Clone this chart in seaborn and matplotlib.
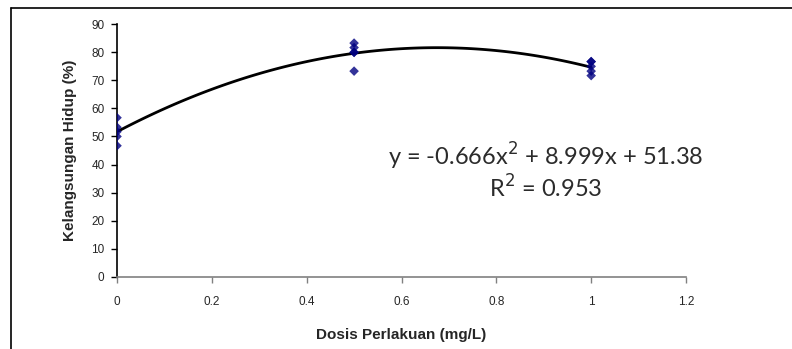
import numpy as np
import pandas as pd
import seaborn as sns
import matplotlib
matplotlib.use("Agg")
import matplotlib.pyplot as plt
from matplotlib.lines import Line2D

# Data
dose = [0, 0, 0, 0, 0,
        0.5, 0.5, 0.5, 0.5, 0.5,
        1, 1, 1, 1, 1]
survival = [56.7, 53.3, 51.7, 50.0, 46.7,
            83.3, 81.7, 80.0, 80.0, 73.3,
            76.7, 76.7, 75.0, 73.3, 71.7]
x_ticks = [0, 0.2, 0.4, 0.6, 0.8, 1, 1.2]
x_tick_labels = ["0", "0.2", "0.4", "0.6", "0.8", "1", "1.2"]
y_ticks = [0, 10, 20, 30, 40, 50, 60, 70, 80, 90]
equation_text = "y = -0.666x$^2$ + 8.999x + 51.38"
r2_text = "R$^2$ = 0.953"

df = pd.DataFrame({"dose": dose, "survival": survival})

sns.set_theme(style="white")
plt.rcParams["font.family"] = ["Liberation Sans", "DejaVu Sans"]

fig = plt.figure(figsize=(7.92, 3.49), dpi=100)
ax = fig.add_axes([117 / 792, 1 - 276.7 / 349, (686 - 117) / 792, (276.7 - 24.3) / 349])

sns.regplot(data=df, x="dose", y="survival", order=2, ci=None, ax=ax,
            marker="D",
            scatter_kws=dict(color="#000080", s=24, edgecolor="none", zorder=3),
            line_kws=dict(color="black", lw=2.0, zorder=2))

ax.set_xlim(0, 1.2)
ax.set_ylim(0, 90)
ax.set_xticks(x_ticks)
ax.set_xticklabels(x_tick_labels)
ax.set_yticks(y_ticks)

for s in ["top", "right"]:
    ax.spines[s].set_visible(False)
ax.spines["left"].set_color("black")
ax.spines["left"].set_linewidth(1.2)
ax.spines["bottom"].set_color("#808080")
ax.spines["bottom"].set_linewidth(1.2)

ax.tick_params(axis="y", direction="out", length=4, width=1, color="black",
               labelsize=8.5, pad=5, left=True)
ax.tick_params(axis="x", direction="out", length=4, width=1, color="#808080",
               labelsize=8.5, pad=10, bottom=True)

ax.set_xlabel("Dosis Perlakuan (mg/L)", fontsize=11, fontweight="bold", labelpad=14)
ax.set_ylabel("Kelangsungan Hidup (%)", fontsize=11, fontweight="bold", labelpad=10)

ax.text(0.905, 42.8, equation_text, fontsize=17, color="#2b2b2b",
        family=["Lato", "DejaVu Sans"], ha="center", va="center")
ax.text(0.905, 31.7, r2_text, fontsize=17, color="#2b2b2b",
        family=["Lato", "DejaVu Sans"], ha="center", va="center")

# outer frame (left and top edges visible)
fig.add_artist(Line2D([10.5 / 792, 10.5 / 792], [0, 1 - 7.5 / 349],
                      transform=fig.transFigure, color="black", lw=1.2))
fig.add_artist(Line2D([10.5 / 792, 1], [1 - 7.5 / 349, 1 - 7.5 / 349],
                      transform=fig.transFigure, color="black", lw=1.2))

fig.savefig("out.png", dpi=100)
